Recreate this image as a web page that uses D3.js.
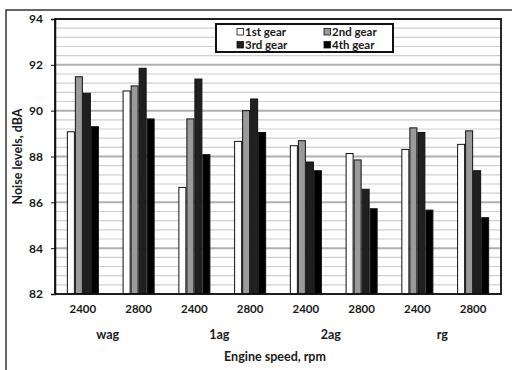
<!DOCTYPE html>
<html>
<head>
<meta charset="utf-8">
<script src="https://cdn.jsdelivr.net/npm/d3@7/dist/d3.min.js"></script>
<style>
  html, body { margin: 0; padding: 0; background: #fff; }
  svg { display: block; }
  text { font-family: Lato, "Open Sans", sans-serif; font-weight: 700; fill: #1a1a1a; }
</style>
</head>
<body>
<svg id="chart" width="512" height="370"></svg>
<script>
// Engine speeds for each bar group and the gear-ratio set each pair belongs to
const speeds = ["2400", "2800", "2400", "2800", "2400", "2800", "2400", "2800"];
const sets = ["wag", "1ag", "2ag", "rg"];
const gears = ["1st gear", "2nd gear", "3rd gear", "4th gear"];

// Noise level (dBA) per gear, one value per speed group
const gear1 = [89.08, 90.86, 86.65, 88.66, 88.47, 88.13, 88.31, 88.53];
const gear2 = [91.48, 91.08, 89.64, 90.00, 88.69, 87.85, 89.25, 89.12];
const gear3 = [90.76, 91.85, 91.38, 90.51, 87.76, 86.57, 89.05, 87.38];
const gear4 = [89.30, 89.64, 88.08, 89.05, 87.38, 85.72, 85.66, 85.33];

const yTicks = [82, 84, 86, 88, 90, 92, 94];

const series = [gear1, gear2, gear3, gear4];
const fills = ["#ffffff", "#9a9a9a", "#202020", "#000000"];

const svg = d3.select("#chart");
const plotL = 55, plotR = 501, plotT = 19, plotB = 294;

// outer frame
svg.append("rect")
  .attr("x", 6).attr("y", 10).attr("width", 540).attr("height", 400)
  .attr("fill", "none").attr("stroke", "#333").attr("stroke-width", 1.5);

const x0 = d3.scaleBand().domain(d3.range(speeds.length)).range([plotL, plotR]).padding(0);
const x1 = d3.scaleBand().domain(d3.range(gears.length)).range([0, x0.bandwidth()])
  .paddingInner(0).paddingOuter(1.48);
const y = d3.scaleLinear().domain([82, 94]).range([plotB, plotT]);

// plot background
svg.append("rect").attr("x", plotL).attr("y", plotT)
  .attr("width", plotR - plotL).attr("height", plotB - plotT).attr("fill", "#fff");

// minor grid every 0.4 dBA, major every 2 dBA
const minor = d3.range(82, 94.001, 0.4).filter(v => Math.abs(v / 2 - Math.round(v / 2)) > 0.01);
svg.append("g").selectAll("line").data(minor).join("line")
  .attr("x1", plotL).attr("x2", plotR)
  .attr("y1", d => y(d)).attr("y2", d => y(d))
  .attr("stroke", "#d0d0d0").attr("stroke-width", 1.2);
svg.append("g").selectAll("line").data(yTicks).join("line")
  .attr("x1", plotL).attr("x2", plotR)
  .attr("y1", d => y(d)).attr("y2", d => y(d))
  .attr("stroke", "#b0b0b0").attr("stroke-width", 2);

// bars
const groups = svg.append("g").selectAll("g").data(speeds).join("g")
  .attr("transform", (d, i) => `translate(${x0(i)},0)`);
groups.selectAll("rect")
  .data((d, i) => series.map((s, k) => ({ k, v: s[i] })))
  .join("rect")
  .attr("x", d => x1(d.k) + 0.5)
  .attr("width", x1.bandwidth() - 1)
  .attr("y", d => y(d.v))
  .attr("height", d => y(82) - y(d.v))
  .attr("fill", d => fills[d.k])
  .attr("stroke", "#111").attr("stroke-width", 1);

// plot border
svg.append("rect").attr("x", plotL).attr("y", plotT)
  .attr("width", plotR - plotL).attr("height", plotB - plotT)
  .attr("fill", "none").attr("stroke", "#111").attr("stroke-width", 1.8);

// y axis
const yAxis = d3.axisLeft(y).tickValues(yTicks).tickFormat(d3.format("d")).tickSize(4).tickPadding(8);
const yg = svg.append("g").attr("transform", `translate(${plotL},0)`).call(yAxis);
yg.select(".domain").attr("stroke", "#111").attr("stroke-width", 1.5);
yg.selectAll(".tick line").attr("stroke", "#111");
yg.selectAll("text").attr("font-size", 12).attr("fill", "#1a1a1a")
  .style("font-family", "Lato, sans-serif").style("font-weight", 700);

// x axis: engine speeds
const xAxis = d3.axisBottom(x0).tickFormat(i => speeds[i]).tickSize(0).tickPadding(11);
const xg = svg.append("g").attr("transform", `translate(0,${plotB})`).call(xAxis);
xg.select(".domain").remove();
xg.selectAll("text").attr("font-size", 11.5).attr("fill", "#1a1a1a")
  .style("font-family", "Lato, sans-serif").style("font-weight", 700);

// gear-ratio set labels under each pair of speeds
svg.append("g").selectAll("text").data(sets).join("text")
  .attr("x", (d, i) => (x0(2 * i) + x0(2 * i + 1) + x0.bandwidth()) / 2 - 3)
  .attr("y", 339)
  .attr("text-anchor", "middle")
  .attr("font-size", 12.5)
  .text(d => d);

// axis titles
svg.append("text").attr("x", 275).attr("y", 361).attr("text-anchor", "middle")
  .attr("font-size", 12.5).text("Engine speed, rpm");
svg.append("text").attr("transform", `translate(22,${(plotT + plotB) / 2}) rotate(-90)`)
  .attr("text-anchor", "middle").attr("font-size", 12.5).text("Noise levels, dBA");

// legend
const lg = svg.append("g");
lg.append("rect").attr("x", 216).attr("y", 24).attr("width", 177).attr("height", 28)
  .attr("fill", "#fff").attr("stroke", "#111").attr("stroke-width", 2);
const legendPos = [[237, 32], [324, 32], [237, 45], [324, 45]];
gears.forEach((g, k) => {
  const [lx, ly] = legendPos[k];
  lg.append("rect").attr("x", lx).attr("y", ly - 3.5).attr("width", 6.5).attr("height", 6.5)
    .attr("fill", fills[k]).attr("stroke", "#111").attr("stroke-width", 0.8);
  lg.append("text").attr("x", lx + 8).attr("y", ly + 4).attr("font-size", 11.5).text(g);
});
</script>
</body>
</html>
